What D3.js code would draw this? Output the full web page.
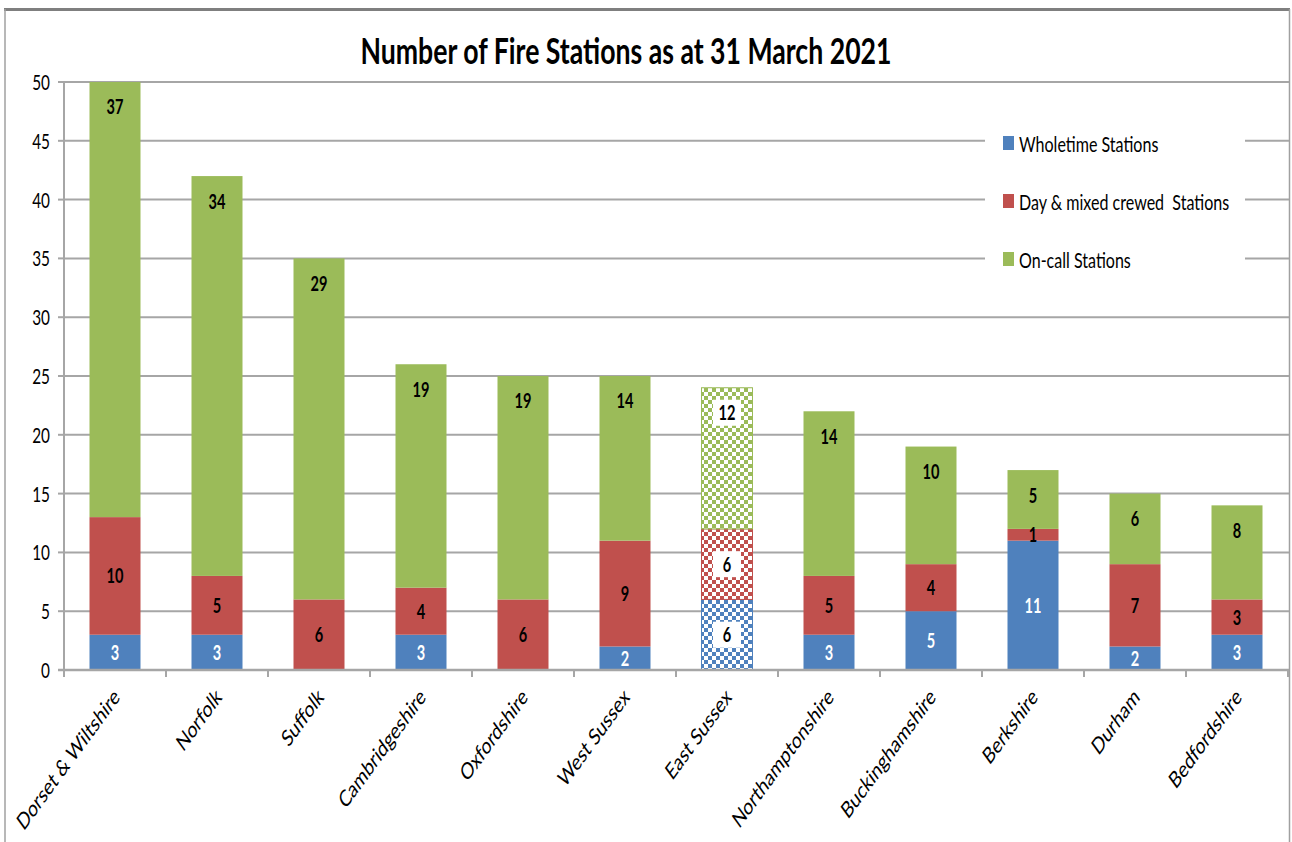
<!DOCTYPE html>
<html>
<head>
<meta charset="utf-8">
<script src="https://cdn.jsdelivr.net/npm/d3@7"></script>
<style>
  body { margin: 0; background: #fff; }
  svg text { font-family: Lato, "Open Sans", sans-serif; white-space: pre; }
</style>
</head>
<body>
<svg id="chart" width="1292" height="842"></svg>
<script>
const categories = ['Dorset & Wiltshire', 'Norfolk', 'Suffolk', 'Cambridgeshire', 'Oxfordshire', 'West Sussex',
  'East Sussex', 'Northamptonshire', 'Buckinghamshire', 'Berkshire', 'Durham', 'Bedfordshire']
const wholetime = [3, 3, 0, 3, 0, 2, 6, 3, 5, 11, 2, 3]
const dayMixed = [10, 5, 6, 4, 6, 9, 6, 5, 4, 1, 7, 3]
const onCall = [37, 34, 29, 19, 19, 14, 12, 14, 10, 5, 6, 8]
const seriesNames = ['Wholetime Stations', 'Day & mixed crewed  Stations', 'On-call Stations']
const yTicks = [0, 5, 10, 15, 20, 25, 30, 35, 40, 45, 50]
const patterned = ['East Sussex']

const colors = ['#4f81bd', '#c0504d', '#9bbb59']
const sx = 0.73 // the picture is squeezed sideways, so is the text
const margin = { left: 64, right: 3, top: 82, bottom: 172 }
const W = 1292, H = 842

const svg = d3.select('#chart')

// text helper: squeeze horizontally around the anchor
function txt(g, x, y, s, opts) {
  opts = opts || {}
  return g.append('text')
    .attr('transform', 'translate(' + x + ',' + y + ') scale(' + sx + ',1)' + (opts.rot ? ' rotate(' + opts.rot + ')' : ''))
    .attr('text-anchor', opts.anchor || 'middle')
    .attr('dominant-baseline', opts.base || 'central')
    .style('font-size', (opts.size || 19) + 'px')
    .style('font-weight', opts.bold ? 'bold' : 'normal')
    .style('fill', opts.fill || '#000')
    .text(s)
}

// checker patterns for the hatched bar
const defs = svg.append('defs')
colors.forEach((c, i) => {
  const p = defs.append('pattern')
    .attr('id', 'chk' + i)
    .attr('patternUnits', 'userSpaceOnUse')
    .attr('width', 8).attr('height', 8)
  p.append('rect').attr('width', 8).attr('height', 8).style('fill', c)
  p.append('rect').attr('x', 0).attr('y', 0).attr('width', 4).attr('height', 4).style('fill', '#fff')
  p.append('rect').attr('x', 4).attr('y', 4).attr('width', 4).attr('height', 4).style('fill', '#fff')
})

// chart frame
svg.append('line').attr('x1', 4).attr('x2', 1290).attr('y1', 9.5).attr('y2', 9.5)
  .style('stroke', '#7f7f7f').style('stroke-width', 3)
svg.append('line').attr('x1', 5).attr('x2', 5).attr('y1', 9).attr('y2', H)
  .style('stroke', '#a0a0a0').style('stroke-width', 1.5)
svg.append('line').attr('x1', 1289.5).attr('x2', 1289.5).attr('y1', 9).attr('y2', H)
  .style('stroke', '#a0a0a0').style('stroke-width', 1.5)

txt(svg, 626, 50, 'Number of Fire Stations as at 31 March 2021', { size: 36.5, bold: true })

const x = d3.scaleBand()
  .domain(categories)
  .range([margin.left, W - margin.right - 1])
  .paddingInner(0.5)
  .paddingOuter(0.25)

const y = d3.scaleLinear()
  .domain([0, 50])
  .range([H - margin.bottom, margin.top])

// gridlines
svg.append('g').selectAll('line')
  .data(yTicks.filter(t => t > 0))
  .enter().append('line')
    .attr('x1', margin.left).attr('x2', W - margin.right)
    .attr('y1', d => y(d)).attr('y2', d => y(d))
    .style('stroke', '#a6a6a6').style('stroke-width', 2)

// y axis
const yAxis = svg.append('g')
yAxis.append('line').attr('x1', margin.left).attr('x2', margin.left)
  .attr('y1', y(50)).attr('y2', y(0)).style('stroke', '#a6a6a6').style('stroke-width', 2)
yTicks.forEach(t => {
  yAxis.append('line').attr('x1', margin.left - 6).attr('x2', margin.left)
    .attr('y1', y(t)).attr('y2', y(t)).style('stroke', '#a6a6a6').style('stroke-width', 2)
  txt(yAxis, 50, y(t), t, { anchor: 'end', size: 21 })
})

// stacked bars
const rows = categories.map((c, i) => ({ cat: c, s0: wholetime[i], s1: dayMixed[i], s2: onCall[i] }))
const stack = d3.stack().keys(['s0', 's1', 's2'])(rows)

const bars = svg.append('g')
stack.forEach((layer, si) => {
  layer.forEach(d => {
    const isPat = patterned.includes(d.data.cat)
    const v = d[1] - d[0]
    if (v === 0) return
    const r = bars.append('rect')
      .attr('x', x(d.data.cat))
      .attr('y', y(d[1]))
      .attr('width', x.bandwidth())
      .attr('height', y(d[0]) - y(d[1]))
      .style('fill', isPat ? 'url(#chk' + si + ')' : colors[si])
    if (isPat) r.style('stroke', colors[si]).style('stroke-width', 1)
  })
})

// x axis
const xAxis = svg.append('g')
xAxis.append('line').attr('x1', margin.left - 6).attr('x2', W - margin.right)
  .attr('y1', y(0)).attr('y2', y(0)).style('stroke', '#a6a6a6').style('stroke-width', 2.5)
d3.range(categories.length + 1).forEach(i => {
  const tx = margin.left + i * x.step()
  xAxis.append('line').attr('x1', tx).attr('x2', tx)
    .attr('y1', y(0)).attr('y2', y(0) + 7).style('stroke', '#a6a6a6').style('stroke-width', 2)
})
categories.forEach(c => {
  txt(xAxis, x(c) + x.bandwidth() / 2 + 1, y(0) + 22, c, { anchor: 'end', rot: -45, size: 23 })
})

// data labels
const labels = svg.append('g')
stack.forEach((layer, si) => {
  layer.forEach(d => {
    const v = d[1] - d[0]
    if (v === 0) return
    const isPat = patterned.includes(d.data.cat)
    const cx = x(d.data.cat) + x.bandwidth() / 2
    const cy = si === 2 ? y(d[1]) + 25 : (y(d[0]) + y(d[1])) / 2
    if (isPat) {
      labels.append('rect').attr('x', cx - 14).attr('y', cy - 13).attr('width', 28).attr('height', 26)
        .style('fill', '#fff')
    }
    txt(labels, cx, cy, v, { size: 20, bold: true, fill: (si === 0 && !isPat) ? '#fff' : '#000' })
  })
})

// legend
const legend = svg.append('g')
legend.append('rect').attr('x', 985).attr('y', 122).attr('width', 260).attr('height', 156).style('fill', '#fff')
seriesNames.forEach((n, i) => {
  const ly = 143 + i * 58
  legend.append('rect').attr('x', 1003).attr('y', ly - 7).attr('width', 11).attr('height', 14).style('fill', colors[i])
  txt(legend, 1019, ly, n, { anchor: 'start', size: 22 })
})
</script>
</body>
</html>
